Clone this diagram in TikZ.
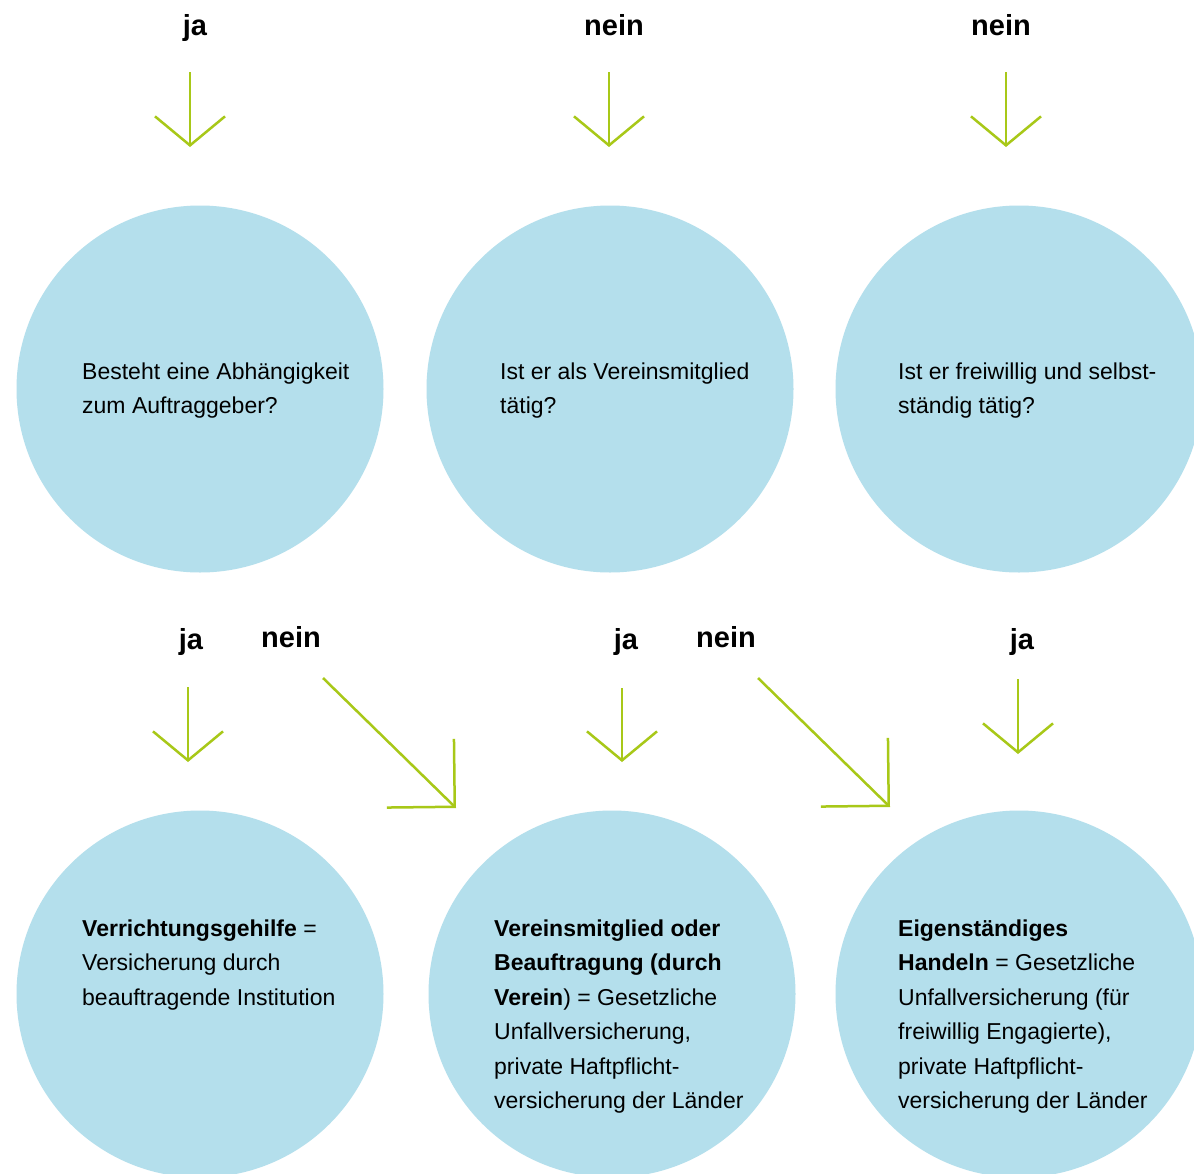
\documentclass[tikz,border=0pt]{standalone}
\usepackage{fontspec}
\setmainfont{Liberation Sans}
\usetikzlibrary{arrows.meta}
\definecolor{circblue}{RGB}{180,223,236}
\definecolor{arrgreen}{RGB}{168,200,24}
\newcommand{\bubblepar}[1]{\parbox[t]{330pt}{\raggedright #1}}
\tikzset{
  bubble/.style={circle, fill=circblue, minimum size=367pt, inner sep=0pt},
  answer/.style={anchor=base, inner sep=0pt, font=\fontsize{29}{34}\selectfont\bfseries},
  bubbletext/.style={anchor=base west, inner sep=0pt, font=\fontsize{23}{34.5}\selectfont},
  downarrow/.style={draw=arrgreen, line width=2.5pt, -{Straight Barb[length=29pt,width=70pt]}},
  diagarrow/.style={draw=arrgreen, line width=2.5pt, -{Straight Barb[length=48pt,width=96pt]}},
}
\begin{document}
\begin{tikzpicture}[x=1pt,y=-1pt]
\clip (0,0) rectangle (1194,1173);
\fill[white] (0,0) rectangle (1194,1173);

% circles
\node[bubble] (c1) at (200,389) {};
\node[bubble] (c2) at (610,389) {};
\node[bubble] (c3) at (1019,389) {};
\node[bubble] (c4) at (200,994) {};
\node[bubble] (c5) at (612,994) {};
\node[bubble] (c6) at (1019,994) {};

% circle texts
\node[bubbletext] (t1) at (82,379) {\bubblepar{Besteht eine Abhängigkeit\\zum Auftraggeber?}};
\node[bubbletext] (t2) at (500,379) {\bubblepar{Ist er als Vereinsmitglied\\tätig?}};
\node[bubbletext] (t3) at (898,379) {\bubblepar{Ist er freiwillig und selbst-\\ständig tätig?}};
\node[bubbletext] (t4) at (82,936) {\bubblepar{\textbf{Verrichtungsgehilfe} =\\Versicherung durch\\beauftragende Institution}};
\node[bubbletext] (t5) at (494,936) {\bubblepar{\textbf{Vereinsmitglied oder}\\\textbf{Beauftragung (durch}\\\textbf{Verein}) = Gesetzliche\\Unfallversicherung,\\private Haftpflicht-\\versicherung der Länder}};
\node[bubbletext] (t6) at (898,936) {\bubblepar{\textbf{Eigenständiges}\\\textbf{Handeln} = Gesetzliche\\Unfallversicherung (für\\freiwillig Engagierte),\\private Haftpflicht-\\versicherung der Länder}};

% answer labels
\node[answer] (l1) at (195,35) {ja};
\node[answer] (l2) at (614,35) {nein};
\node[answer] (l3) at (1001,35) {nein};
\node[answer] (l4) at (191,649) {ja};
\node[answer] (l5) at (291,647) {nein};
\node[answer] (l6) at (626,649) {ja};
\node[answer] (l7) at (726,647) {nein};
\node[answer] (l8) at (1022,649) {ja};

% arrow end points
\coordinate (a1s) at (190,72);   \coordinate (a1e) at (190,147);
\coordinate (a2s) at (609,72);   \coordinate (a2e) at (609,147);
\coordinate (a3s) at (1006,72);  \coordinate (a3e) at (1006,147);
\coordinate (a4s) at (188,687);  \coordinate (a4e) at (188,762);
\coordinate (a5s) at (323,678);  \coordinate (a5e) at (456,808);
\coordinate (a6s) at (622,688);  \coordinate (a6e) at (622,762);
\coordinate (a7s) at (758,678);  \coordinate (a7e) at (890,807);
\coordinate (a8s) at (1018,679); \coordinate (a8e) at (1018,754);

\draw[downarrow] (a1s) -- (a1e);
\draw[downarrow] (a2s) -- (a2e);
\draw[downarrow] (a3s) -- (a3e);
\draw[downarrow] (a4s) -- (a4e);
\draw[diagarrow] (a5s) -- (a5e);
\draw[downarrow] (a6s) -- (a6e);
\draw[diagarrow] (a7s) -- (a7e);
\draw[downarrow] (a8s) -- (a8e);
\end{tikzpicture}
\end{document}
